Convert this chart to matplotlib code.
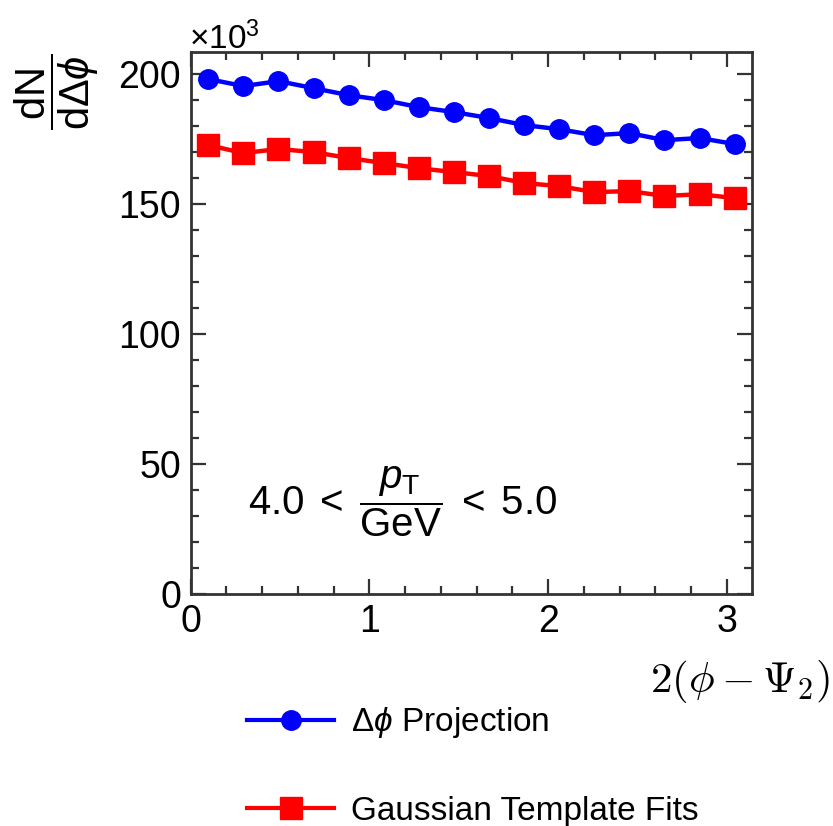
import numpy as np
import matplotlib.pyplot as plt
from matplotlib.ticker import MultipleLocator
from matplotlib.lines import Line2D

plt.rcParams['font.family'] = ['Liberation Sans', 'DejaVu Sans']
plt.rcParams['mathtext.fontset'] = 'custom'
plt.rcParams['mathtext.rm'] = 'Liberation Sans'
plt.rcParams['mathtext.it'] = 'Liberation Sans:italic'
plt.rcParams['mathtext.sf'] = 'Liberation Sans'

# 16 bins over [0, pi]
n_bins = 16
bin_centers = (np.arange(n_bins) + 0.5) * np.pi / n_bins

# values in units of 10^3
projection = [198.1, 195.4, 197.3, 194.6, 191.9, 190.0, 187.3, 185.4,
              183.1, 180.4, 178.8, 176.5, 177.3, 174.6, 175.4, 173.1]
template_fits = [172.7, 169.6, 171.2, 170.0, 167.7, 165.8, 163.8, 162.3,
                 160.8, 158.1, 156.9, 154.6, 155.0, 153.1, 153.8, 152.3]

fig = plt.figure(figsize=(8.33, 8.26), dpi=100)
ax = fig.add_axes([0.229, 0.281, 0.674, 0.656])

ax.plot(bin_centers, projection, color='#0000ff', marker='o', ms=14, lw=3.2)
ax.plot(bin_centers, template_fits, color='#ff0000', marker='s', ms=16, lw=3.2)

ax.set_xlim(0, np.pi)
ax.set_ylim(0, 208.5)

ax.xaxis.set_major_locator(MultipleLocator(1))
ax.xaxis.set_minor_locator(MultipleLocator(0.2))
ax.yaxis.set_major_locator(MultipleLocator(50))
ax.yaxis.set_minor_locator(MultipleLocator(10))
ax.tick_params(which='both', direction='in', top=True, right=True,
               labelsize=27, width=1.6, color='#333333')
ax.tick_params(which='major', length=11, pad=7)
ax.tick_params(which='minor', length=5.5)
for s in ax.spines.values():
    s.set_linewidth(2)
    s.set_color('#333333')

fig.text(0.227, 0.953, r'$\times10^{3}$', fontsize=24, ha='left', va='center')
fig.text(0.068, 0.889, r'$\dfrac{\mathrm{dN}}{\mathrm{d}\Delta\phi}$',
         fontsize=30, rotation=90, ha='center', va='center')
ax.text(0.378, 0.17,
        r'$4.0\;<\;\dfrac{p_{\mathrm{T}}}{\mathrm{GeV}}\;<\;5.0$',
        transform=ax.transAxes, fontsize=29, ha='center', va='center')
fig.text(0.996, 0.175, r'$2(\phi - \Psi_2)$', fontsize=31, ha='right',
         va='center', math_fontfamily='cm')

handles = [
    Line2D([], [], color='#0000ff', marker='o', ms=14, lw=3),
    Line2D([], [], color='#ff0000', marker='s', ms=16, lw=3),
]
labels = [r'$\Delta\phi$ Projection', 'Gaussian Template Fits']
fig.legend(handles, labels, loc='upper left', bbox_to_anchor=(0.297, 0.146),
           frameon=False, fontsize=24, labelspacing=1.66, handlelength=2.6,
           handletextpad=0.5, borderpad=0, borderaxespad=0)

fig.savefig('out.png', dpi=100)
